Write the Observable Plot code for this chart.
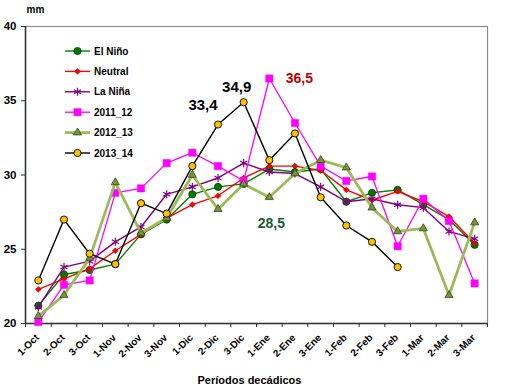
<!DOCTYPE html>
<html><head><meta charset="utf-8">
<script src="https://cdn.jsdelivr.net/npm/d3@7"></script>
<script src="https://cdn.jsdelivr.net/npm/@observablehq/plot@0.6"></script>
<style>
body{margin:0;background:#fff;}
#chart svg{font-family:"Liberation Sans",Arial,sans-serif;background:#fff;}
</style>
</head><body><div id="chart"></div>
<script>
const categories = ["1-Oct","2-Oct","3-Oct","1-Nov","2-Nov","3-Nov","1-Dic","2-Dic","3-Dic","1-Ene","2-Ene","3-Ene","1-Feb","2-Feb","3-Feb","1-Mar","2-Mar","3-Mar"];
const seriesNames = ["El Niño","Neutral","La Niña","2011_12","2012_13","2013_14"];
const elNino  = [21.2, 23.3, 23.6, 24.0, 26.0, 27.0, 28.7, 29.2, 29.4, 30.4, 30.2, 30.4, 28.2, 28.8, 29.0, 28.0, 27.0, 25.3];
const neutral = [22.3, 23.0, 23.7, 24.9, 26.0, 27.1, 28.0, 28.6, 29.8, 30.6, 30.6, 30.3, 29.0, 28.3, 28.9, 28.2, 27.2, 25.4];
const laNina  = [21.1, 23.8, 24.2, 25.5, 26.5, 28.7, 29.2, 29.8, 30.8, 30.2, 30.1, 29.2, 28.2, 28.4, 28.0, 27.8, 26.2, 25.7];
const s2011_12 = [20.1, 22.6, 22.9, 28.8, 29.1, 30.8, 31.5, 30.6, 29.6, 36.5, 33.5, 30.6, 29.6, 29.9, 25.2, 28.4, 26.9, 22.7];
const s2012_13 = [20.5, 21.9, 24.4, 29.5, 26.1, 27.1, 30.0, 27.7, 29.4, 28.5, 30.1, 31.0, 30.5, 27.8, 26.2, 26.4, 21.9, 26.8];
const s2013_14 = [22.9, 27.0, 24.7, 24.0, 28.1, 27.4, 30.6, 33.4, 34.9, 31.0, 32.8, 28.5, 26.6, 25.5, 23.8, null, null, null];
const yTicks = [20, 25, 30, 35, 40];
const annotationLabels = ["33,4", "34,9", "36,5", "28,5"];
const annotationCategories = ["2-Dic", "3-Dic", "1-Ene", "1-Ene"];
const annotationValues = [33.4, 34.9, 36.5, 28.5];
const xTitle = "Períodos decádicos";
const yUnit = "mm";

const seriesValues = [elNino, neutral, laNina, s2011_12, s2012_13, s2013_14];
const styles = [
  {line: "#008000", width: 1.4, symbol: "circle", r: 3.6, fill: "#007a00", stroke: "#003f00", sw: 0.8},
  {line: "#ff0000", width: 1.4, symbol: "diamond2", r: 2.6, fill: "#ff0000", stroke: "#b00000", sw: 0.6},
  {line: "#800080", width: 1.4, symbol: "asterisk", r: 3.8, fill: "none", stroke: "#800080", sw: 1.2},
  {line: "#ff00ff", width: 1.3, symbol: "square", r: 4.1, fill: "#ff00ff", stroke: "#ff00ff", sw: 0.5},
  {line: "#9bbb59", width: 2.8, symbol: "triangle", r: 3.0, fill: "#77933c", stroke: "#2f4a14", sw: 0.8},
  {line: "#000000", width: 1.4, symbol: "circle", r: 3.6, fill: "#ffc000", stroke: "#000000", sw: 0.9}
];
const annStyles = [
  {fill: "#000000", size: 15, dx: -15, dy: -19},
  {fill: "#000000", size: 15, dx: -7, dy: -15},
  {fill: "#c00000", size: 14, dx: 30, dy: 0},
  {fill: "#1d5a3a", size: 14, dx: 2, dy: 26}
];

const W = 509, H = 388, mL = 25, mR = 22, mT = 26, mB = 65;

const marks = [];
marks.push(Plot.frame({stroke: "#8c8c8c", strokeWidth: 1.2}));
marks.push(Plot.ruleY([yTicks[0]], {stroke: "#333", strokeWidth: 1.5}));
marks.push(Plot.ruleX([-0.5], {stroke: "#333", strokeWidth: 1.5}));
marks.push(Plot.axisY({ticks: yTicks, tickSize: 4, tickPadding: 5, fontSize: 11.5, fontWeight: "bold", label: null, stroke: "#333"}));
marks.push(Plot.axisX({ticks: d3.range(categories.length + 1).map(i => i - 0.5), tickSize: 4, tickFormat: () => "", label: null, stroke: "#333"}));
marks.push(Plot.text(d3.range(categories.length), {
  x: i => i, text: i => categories[i], frameAnchor: "bottom", rotate: -45,
  textAnchor: "end", lineAnchor: "middle", dx: -1, dy: 12.5, fontSize: 10, fontWeight: "bold", fill: "#000"
}));

seriesValues.forEach((vals, s) => {
  const data = vals.map((v, i) => ({i, v})).filter(d => d.v != null);
  const st = styles[s];
  marks.push(Plot.line(data, {x: "i", y: "v", stroke: st.line, strokeWidth: st.width}));
  marks.push(Plot.dot(data, {x: "i", y: "v", symbol: st.symbol, r: st.r, fill: st.fill, stroke: st.stroke, strokeWidth: st.sw}));
});

annotationLabels.forEach((lab, k) => {
  const a = annStyles[k];
  marks.push(Plot.text([{i: categories.indexOf(annotationCategories[k]), v: annotationValues[k], t: lab}],
    {x: "i", y: "v", text: "t", fill: a.fill, fontSize: a.size, fontWeight: "bold", dx: a.dx, dy: a.dy}));
});

marks.push(Plot.text([xTitle], {text: d => d, frameAnchor: "bottom", lineAnchor: "middle", dx: -7, dy: 57, fontSize: 11, fontWeight: "bold"}));
marks.push(Plot.text([yUnit], {text: d => d, frameAnchor: "top-left", textAnchor: "start", lineAnchor: "middle", dx: 1, dy: -17, fontSize: 10, fontWeight: "bold"}));

const chart = Plot.plot({
  width: W, height: H,
  marginLeft: mL, marginRight: mR, marginTop: mT, marginBottom: mB,
  style: {fontFamily: "'Liberation Sans', Arial, sans-serif", background: "#fff", color: "#000"},
  x: {type: "linear", domain: [-0.5, categories.length - 0.5]},
  y: {domain: [yTicks[0], yTicks[yTicks.length - 1]]},
  marks
});
document.getElementById("chart").appendChild(chart);

// Legend inside plot area
const svg = d3.select(chart);
const symMap = {circle: d3.symbolCircle, diamond2: d3.symbolDiamond2, asterisk: d3.symbolAsterisk, square: d3.symbolSquare, triangle: d3.symbolTriangle};
const lg = svg.append("g").attr("font-size", 10).attr("font-weight", "bold").attr("text-anchor", "start");
seriesNames.forEach((name, k) => {
  const st = styles[k];
  const y = 51 + k * 20.4;
  const g = lg.append("g").attr("transform", `translate(0,${y})`);
  g.append("line").attr("x1", 65).attr("x2", 90).attr("y1", 0).attr("y2", 0)
    .attr("stroke", st.line).attr("stroke-width", st.width);
  g.append("path").attr("transform", "translate(77.5,0)")
    .attr("d", d3.symbol(symMap[st.symbol], Math.PI * st.r * st.r)())
    .attr("fill", st.fill).attr("stroke", st.stroke).attr("stroke-width", st.sw);
  g.append("text").attr("x", 94).attr("y", 0).attr("dy", "0.35em").attr("text-anchor", "start").attr("fill", "#000").text(name);
});
</script>
</body></html>
